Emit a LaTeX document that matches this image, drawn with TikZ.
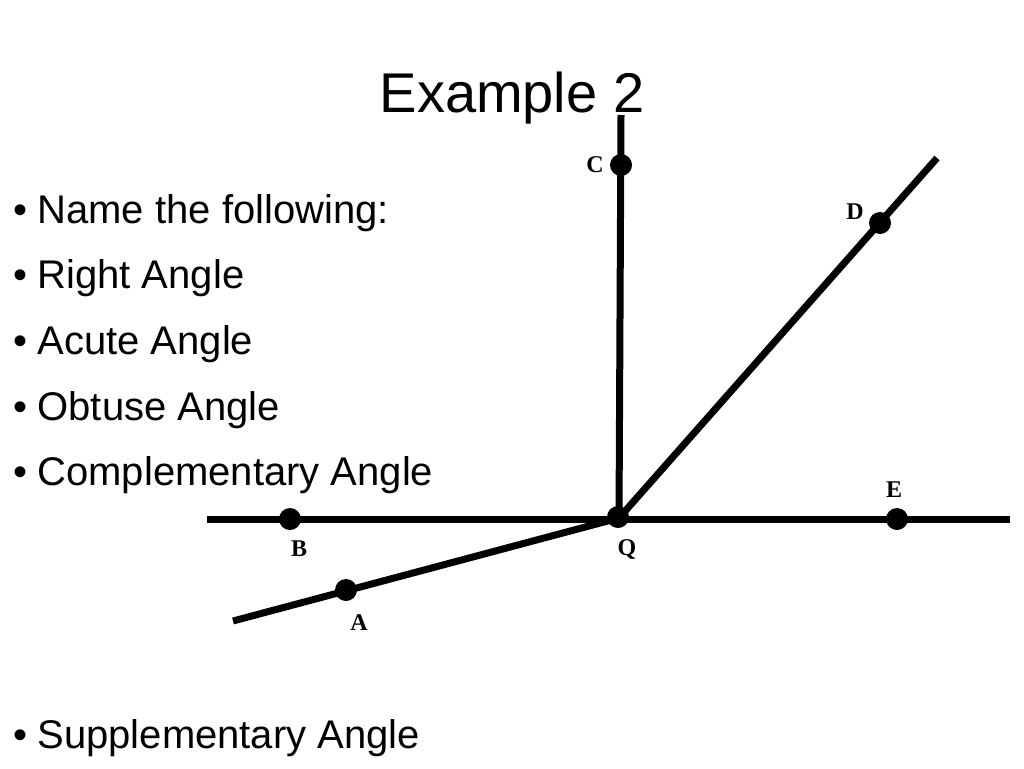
\documentclass[tikz,border=0pt]{standalone}
\usepackage{fontspec}
\setmainfont{Liberation Sans}
\newfontfamily\lblfont{Liberation Serif}
\begin{document}
\begin{tikzpicture}[x=1pt,y=-1pt,
  ln/.style={line width=7pt},
  pt/.style={circle,fill=black,inner sep=0pt,minimum size=22pt},
  lbl/.style={font=\lblfont\fontsize{24}{28}\selectfont\bfseries},
  bul/.style={anchor=west,font=\fontsize{40}{46}\selectfont}]
\useasboundingbox (0,0) rectangle (1024,768);
\node[font=\fontsize{56}{64}\selectfont] (title) at (512,98) {Example 2};
\foreach \t/\y in {Name the following:/213,Right Angle/278,Acute Angle/344,Obtuse Angle/410,Complementary Angle/475,Supplementary Angle/738}
  \node[bul] at (10,\y) {•\hspace{10pt}\t};
\coordinate (Bend) at (207,519);
\coordinate (Eend) at (1010,519);
\coordinate (Cend) at (621,115);
\coordinate (Dend) at (937,158);
\coordinate (Aend) at (233,621);
\coordinate (Qc) at (619,518);
\draw[ln] (Bend) -- (Eend);
\draw[ln] (Qc) -- (Cend);
\draw[ln] (Qc) -- (Dend);
\draw[ln] (Qc) -- (Aend);
\node[pt] (C) at (621,165) {};
\node[pt] (D) at (880,223) {};
\node[pt] (B) at (290,519) {};
\node[pt] (E) at (897,519) {};
\node[pt] (A) at (346,590) {};
\node[pt] (Q) at (618,517) {};
\node[lbl] at (595,165) {C};
\node[lbl] at (855,212) {D};
\node[lbl] at (299,549) {B};
\node[lbl] at (627,549) {Q};
\node[lbl] at (359,623) {A};
\node[lbl] at (894,490) {E};
\end{tikzpicture}
\end{document}
